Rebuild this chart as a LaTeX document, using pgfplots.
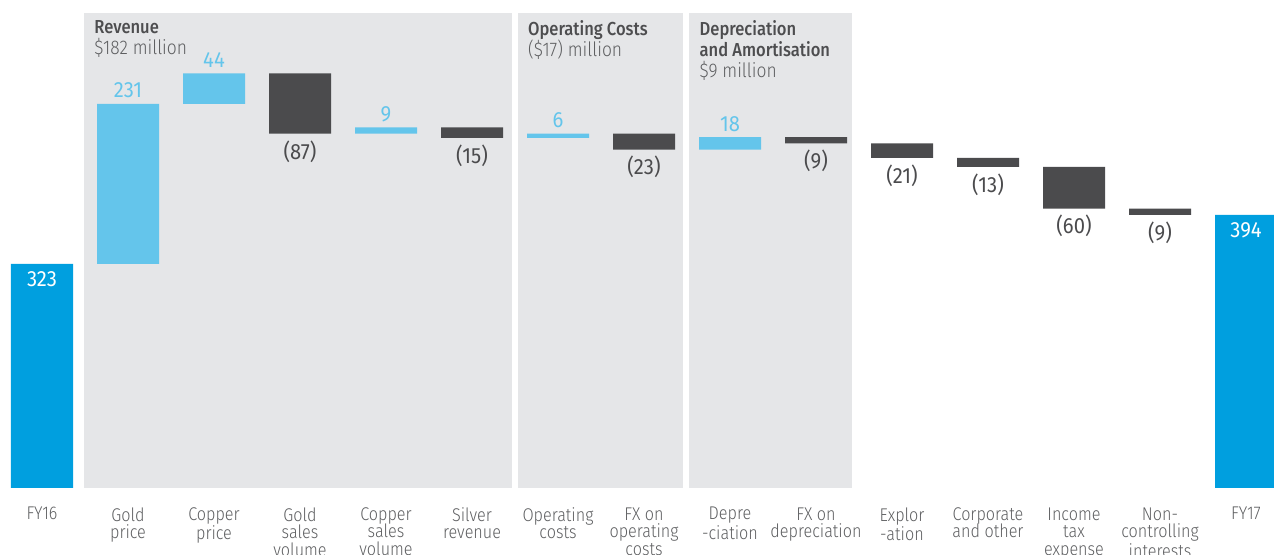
\documentclass[border=0pt]{standalone}
\usepackage{fontspec}
\setmainfont{Fira Sans}[UprightFont={* Light}, BoldFont={* Medium}, FakeStretch=0.88]
\newfontfamily\valfont{Fira Sans}[FakeStretch=0.92]
\usepackage{pgfplots}
\usepackage{pgfplotstable}
\pgfplotsset{compat=1.18}
\definecolor{lblue}{HTML}{64C5EB}
\definecolor{dgrey}{HTML}{4B4B4D}
\definecolor{tblue}{HTML}{009FDF}
\definecolor{panel}{HTML}{E5E6E8}
\definecolor{txt}{HTML}{5E5F61}
\definecolor{ttl}{HTML}{4D4D4F}

% waterfall: invisible base + visible segment
\pgfplotstableread{
i  base pos neg tot
0  0    0   0   323
1  323  231 0   0
2  554  44  0   0
3  511  0   87  0
4  511  9   0   0
5  505  0   15  0
6  505  6   0   0
7  488  0   23  0
8  488  18  0   0
9  497  0   9   0
10 476  0   21  0
11 463  0   13  0
12 403  0   60  0
13 394  0   9   0
14 0    0   0   394
}\wf

\pgfplotstableread{
x y lab
1 554 231
2 598 44
4 520 9
6 511 6
8 506 18
}\poslab

\pgfplotstableread{
x y lab
3 511 (87)
5 505 (15)
7 488 (23)
9 497 (9)
10 476 (21)
11 463 (13)
12 403 (60)
13 394 (9)
}\neglab

\pgfplotstableread{
x y lab
0 323 323
14 394 394
}\totlab

\pgfplotsset{
  wbase/.style={scale only axis, width=637pt, height=244pt,
    xmin=-0.4884, xmax=14.3256, ymin=0, ymax=703.68,
    axis line style={draw=none}, xtick=\empty, ytick=\empty,
    major tick length=0pt, clip=false, at={(0,0)}, anchor=south west},
}
\tikzset{vlab/.style={font=\valfont\fontsize{11}{12}\selectfont, inner sep=0pt},
  ptitle/.style={anchor=north west, inner sep=0pt, align=left, text=txt,
    font=\fontsize{9.4}{10.5}\selectfont}}
\newcommand\sub[1]{{\fontsize{9.9}{10.5}\selectfont #1}}

\begin{document}
\begin{tikzpicture}
\useasboundingbox (0,-33.5pt) rectangle (637pt,244pt);
% ---- panels, titles, category labels
\begin{axis}[wbase,
  xtick={0,1,2,3,4,5,6,7,8,9,10,11,12,13,14},
  xticklabels={FY16, Gold\\price, Copper\\price, Gold\\sales\\volume,
    Copper\\sales\\volume, Silver\\revenue, Operating\\costs,
    FX on\\operating\\costs, Depre\\-ciation, FX on\\depreciation,
    Explor\\-ation, Corporate\\and other, Income\\tax\\expense,
    Non-\\controlling\\interests, FY17},
  xticklabel style={align=center, anchor=north, inner sep=0pt, yshift=-9.5pt,
    font=\fontsize{9.2}{8.8}\selectfont, text=txt}]
\addplot[fill=panel, draw=none, mark=none] coordinates {(0.488,684.9) (5.465,684.9)} \closedcycle;
\addplot[fill=panel, draw=none, mark=none] coordinates {(5.535,684.9) (7.450,684.9)} \closedcycle;
\addplot[fill=panel, draw=none, mark=none] coordinates {(7.523,684.9) (9.415,684.9)} \closedcycle;
\node[ptitle] at (axis cs:0.605,674.8)
  {\textcolor{ttl}{\bfseries Revenue}\\\sub{\$182 million}};
\node[ptitle] at (axis cs:5.648,674.8)
  {\textcolor{ttl}{\bfseries Operating Costs}\\\sub{(\$17) million}};
\node[ptitle] at (axis cs:7.643,674.8)
  {\textcolor{ttl}{\bfseries Depreciation}\\\textcolor{ttl}{\bfseries and Amortisation}\\\sub{\$9 million}};
\end{axis}
% ---- bars
\begin{axis}[wbase, ybar stacked, bar width=0.721]
\addplot[draw=none, fill=none] table[x=i, y=base] {\wf};
\addplot[draw=none, fill=lblue] table[x=i, y=pos] {\wf};
\addplot[draw=none, fill=dgrey] table[x=i, y=neg] {\wf};
\addplot[draw=none, fill=tblue] table[x=i, y=tot] {\wf};
\end{axis}
% ---- value labels
\begin{axis}[wbase]
\addplot[draw=none, mark=none, point meta=explicit symbolic, nodes near coords,
  every node near coord/.append style={vlab, anchor=south, yshift=2.6pt, text=lblue}]
  table[x=x, y=y, meta=lab] {\poslab};
\addplot[draw=none, mark=none, point meta=explicit symbolic, nodes near coords,
  every node near coord/.append style={vlab, anchor=north, yshift=-3.2pt, text=dgrey}]
  table[x=x, y=y, meta=lab] {\neglab};
\addplot[draw=none, mark=none, point meta=explicit symbolic, nodes near coords,
  every node near coord/.append style={vlab, anchor=north, yshift=-3.6pt, text=white}]
  table[x=x, y=y, meta=lab] {\totlab};
\end{axis}
\end{tikzpicture}
\end{document}
